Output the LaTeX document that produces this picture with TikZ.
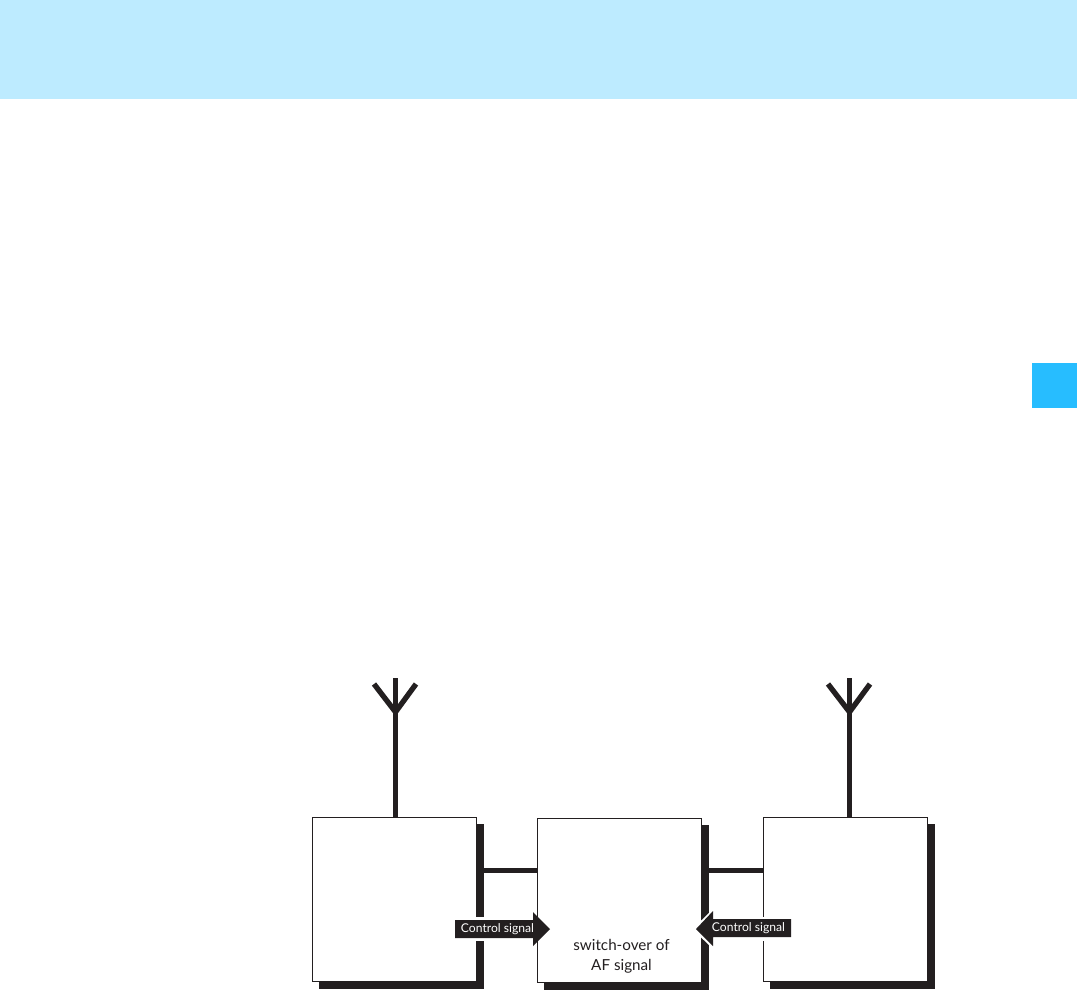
\documentclass[tikz,border=0pt]{standalone}
\usepackage{fontspec}
\setmainfont{Lato}
\definecolor{headerblue}{HTML}{BDEBFF}
\definecolor{tabblue}{HTML}{27BDFF}
\definecolor{ink}{HTML}{231F20}
\tikzset{
  x=0.75pt,y=-0.75pt,
  block/.style={draw=ink,fill=white,line width=0.75pt,minimum width=123pt,minimum height=123pt,inner sep=0pt,outer sep=0pt},
  shadowbox/.style={fill=ink,draw=none,minimum width=123.5pt,minimum height=123.5pt,inner sep=0pt,outer sep=0pt},
  wire/.style={draw=ink,line width=4pt},
  mast/.style={draw=ink,line width=4.3pt},
  fork/.style={draw=ink,line width=4pt},
  tagtext/.style={text=white,font=\fontsize{9.1}{11}\selectfont,inner sep=0pt},
  caption/.style={font=\fontsize{11.4}{15}\selectfont,text=ink,align=center},
}
\begin{document}
\begin{tikzpicture}
\useasboundingbox (0,0) rectangle (1077,990);
\fill[headerblue] (0,0) rectangle (1077,98.5);
\fill[tabblue] (1032,363) rectangle (1077,408);
% antenna feed and fork coordinates
\coordinate (a1top) at (395.5,678);
\coordinate (a1fork) at (395.5,712);
\coordinate (a1l) at (374,684);
\coordinate (a1r) at (416,684);
\coordinate (a2top) at (849.5,678);
\coordinate (a2fork) at (849.5,712);
\coordinate (a2l) at (828,684);
\coordinate (a2r) at (870,684);
% shadows
\node[shadowbox] (s1) at (401.5,906.5) {};
\node[shadowbox] (s2) at (626.5,907.5) {};
\node[shadowbox] (s3) at (852.5,906.5) {};
% blocks
\node[block] (b1) at (394.5,899.5) {};
\node[block] (b2) at (619.5,900.5) {};
\node[block] (b3) at (845.5,899.5) {};
% antennas
\draw[mast] (a1top) -- (a1top |- b1.north);
\draw[fork] (a1l) -- (a1fork) -- (a1r);
\draw[mast] (a2top) -- (a2top |- b3.north);
\draw[fork] (a2l) -- (a2fork) -- (a2r);
% connectors
\coordinate (c1) at (480,870.3);
\coordinate (c2) at (705,870.3);
\draw[wire] (c1) -- (c1 -| b2.west);
\draw[wire] (c2) -- (c2 -| b3.west);
% white gaps of control signal arrows
\fill[white] (470,917) rectangle (490,941);
\fill[white] (758,917) rectangle (770,941);
\fill[white] (692.5,929) -- (714,908) -- (714,950) -- cycle;
% arrows
\fill[ink] (455,920) -- (533,920) -- (533,912) -- (550,929) -- (533,946) -- (533,938) -- (455,938) -- cycle;
\fill[ink] (791,919) -- (713,919) -- (713,911) -- (696,929) -- (713,946) -- (713,937) -- (791,937) -- cycle;
\node[tagtext] (t1) at (497.5,929) {Control signal};
\node[tagtext] (t2) at (748.5,928) {Control signal};
\node[caption] (cap) at (621.5,956.5) {switch-over of\\AF signal};
\end{tikzpicture}
\end{document}
